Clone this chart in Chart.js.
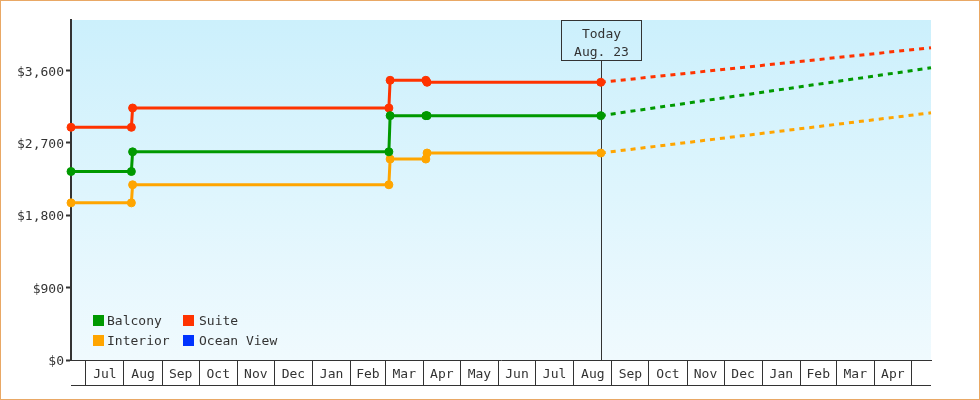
<!DOCTYPE html>
<html>
<head>
<meta charset="utf-8">
<script src="https://cdn.jsdelivr.net/npm/chart.js@4.4.1/dist/chart.umd.min.js"></script>
<style>
  html, body { margin: 0; padding: 0; background: #fff; }
  #wrap { position: relative; width: 980px; height: 400px; box-sizing: border-box; border: 1px solid #e9a865; }
  #chart { display: block; }
  #legend { position: absolute; left: 92px; top: 314px; display: grid; grid-template-columns: 90px 120px; row-gap: 9px; }
  .item { display: flex; align-items: center; height: 11px; }
  .swatch { width: 11px; height: 11px; flex: 0 0 11px; }
  .name { font: 13px 'DejaVu Sans Mono', monospace; line-height: 11px; color: #333; white-space: nowrap; }
</style>
</head>
<body>
<div id="wrap">
  <canvas id="chart" width="978" height="398"></canvas>
  <div id="legend"></div>
</div>
<script>
const seriesNames = ["Balcony", "Suite", "Interior", "Ocean View"];
const seriesColors = ["#009900", "#ff3300", "#ffa500", "#0033ff"];

const pointDates = ["2022-06-19", "2022-08-07", "2022-08-08", "2023-03-04", "2023-03-05",
                    "2023-04-03", "2023-04-04", "2023-08-23", "2024-05-17"];
const balcony  = [2345, 2345, 2590, 2590, 3040, 3040, 3040, 3040, 3635];
const suite    = [2895, 2895, 3135, 3135, 3480, 3480, 3455, 3455, 3885];
const interior = [1955, 1955, 2180, 2180, 2500, 2500, 2575, 2575, 3075];
const oceanView = [];

const monthLabels = ["Jul", "Aug", "Sep", "Oct", "Nov", "Dec", "Jan", "Feb", "Mar", "Apr", "May", "Jun",
                     "Jul", "Aug", "Sep", "Oct", "Nov", "Dec", "Jan", "Feb", "Mar", "Apr"];
const firstMonth = [2022, 7];
const yTicks = [0, 900, 1800, 2700, 3600];
const yMax = 4230;

const xStart = "2022-06-19";
const xEnd = "2024-05-17";
const today = "2023-08-23";
const todayText = ["Today", "Aug. 23"];

const FONT = "'DejaVu Sans Mono', monospace";
const INK = "#333333";

function dayOf(s) {
  return (Date.parse(s) - Date.parse(xStart)) / 86400000;
}
const todayDay = dayOf(today);

// month boundaries + mid-month label positions
const xTicks = [];
const labelAt = {};
for (let i = 0; i <= monthLabels.length; i++) {
  const m = firstMonth[1] - 1 + i;
  const start = (Date.UTC(firstMonth[0], m, 1) - Date.parse(xStart)) / 86400000;
  xTicks.push(start);
  if (i < monthLabels.length) {
    const end = (Date.UTC(firstMonth[0], m + 1, 1) - Date.parse(xStart)) / 86400000;
    const mid = (start + end) / 2;
    xTicks.push(mid);
    labelAt[mid] = monthLabels[i];
  }
}

const seriesValues = [balcony, suite, interior, oceanView];

const datasets = seriesNames.map((name, i) => ({
  label: name,
  data: seriesValues[i].map((v, j) => ({ x: dayOf(pointDates[j]), y: v })),
  borderColor: seriesColors[i],
  backgroundColor: seriesColors[i],
  borderWidth: 3,
  pointRadius: ctx => (ctx.raw && ctx.raw.x > todayDay ? 0 : 4),
  pointBorderWidth: 1,
  pointHoverRadius: 4,
  tension: 0,
  clip: false,
  segment: {
    borderDash: ctx => (ctx.p0.parsed.x >= todayDay ? [5, 5] : undefined)
  }
}));

const legend = document.getElementById("legend");
seriesNames.forEach((name, i) => {
  const gap = i % 2 ? 5 : 3;
  legend.insertAdjacentHTML("beforeend", `
    <div class="item"><span class="swatch" style="background:${seriesColors[i]}"></span><span class="name" style="margin-left:${gap}px">${name}</span></div>
  `);
});

const backdrop = {
  id: "backdrop",
  beforeDraw(chart) {
    const { ctx, chartArea: a } = chart;
    const g = ctx.createLinearGradient(0, a.top, 0, a.bottom);
    g.addColorStop(0, "#ccf0fc");
    g.addColorStop(1, "#f0fafe");
    ctx.save();
    ctx.fillStyle = g;
    ctx.fillRect(a.left, a.top, a.right - a.left, a.bottom - a.top);
    ctx.restore();
  },
  afterDraw(chart) {
    // bottom line of the month boxes
    const { ctx } = chart;
    const x = chart.scales.x;
    const y = Math.round(x.top + 25) + 0.5;
    ctx.save();
    ctx.strokeStyle = INK;
    ctx.lineWidth = 1;
    ctx.beginPath();
    ctx.moveTo(x.left, y);
    ctx.lineTo(x.right, y);
    ctx.stroke();
    ctx.restore();
  }
};

const todayMarker = {
  id: "todayMarker",
  beforeDatasetsDraw(chart) {
    const { ctx, chartArea: a } = chart;
    const px = Math.round(chart.scales.x.getPixelForValue(todayDay)) + 0.5;
    const boxW = 80, boxH = 40;
    const top = a.top + 0.5;
    ctx.save();
    ctx.strokeStyle = INK;
    ctx.lineWidth = 1;
    ctx.strokeRect(px - boxW / 2, top, boxW, boxH);
    ctx.beginPath();
    ctx.moveTo(px, top + boxH);
    ctx.lineTo(px, a.bottom);
    ctx.stroke();
    ctx.fillStyle = INK;
    ctx.font = "13px " + FONT;
    ctx.textAlign = "center";
    ctx.textBaseline = "middle";
    ctx.fillText(todayText[0], px, top + 14);
    ctx.fillText(todayText[1], px, top + 32);
    ctx.restore();
  }
};

new Chart(document.getElementById("chart"), {
  type: "line",
  data: { datasets },
  options: {
    responsive: false,
    animation: false,
    devicePixelRatio: 1,
    layout: { padding: { top: 19, right: 48, bottom: 0, left: 0 } },
    events: [],
    plugins: {
      legend: { display: false },
      tooltip: { enabled: false }
    },
    scales: {
      x: {
        type: "linear",
        min: dayOf(xStart),
        max: dayOf(xEnd),
        afterBuildTicks: s => { s.ticks = xTicks.map(v => ({ value: v })); },
        afterFit: s => { s.height = 39; },
        border: { display: true, color: INK, width: 1 },
        grid: {
          drawOnChartArea: false,
          drawTicks: true,
          tickLength: 25,
          color: ctx => (ctx.tick && labelAt[ctx.tick.value] ? "rgba(0,0,0,0)" : INK),
          lineWidth: 1
        },
        ticks: {
          autoSkip: false,
          maxRotation: 0,
          padding: -18,
          color: INK,
          font: { family: FONT, size: 13 },
          callback: v => labelAt[v] || ""
        }
      },
      y: {
        min: 0,
        max: yMax,
        afterBuildTicks: s => { s.ticks = yTicks.map(v => ({ value: v })); },
        afterFit: s => { s.width = 70; },
        border: { display: true, color: INK, width: 2 },
        grid: {
          drawOnChartArea: false,
          tickLength: 5,
          tickWidth: 2,
          color: INK
        },
        ticks: {
          padding: 2,
          labelOffset: 1.5,
          color: INK,
          font: { family: FONT, size: 13 },
          callback: v => "$" + v.toLocaleString("en-US")
        }
      }
    }
  },
  plugins: [backdrop, todayMarker]
});
</script>
</body>
</html>
